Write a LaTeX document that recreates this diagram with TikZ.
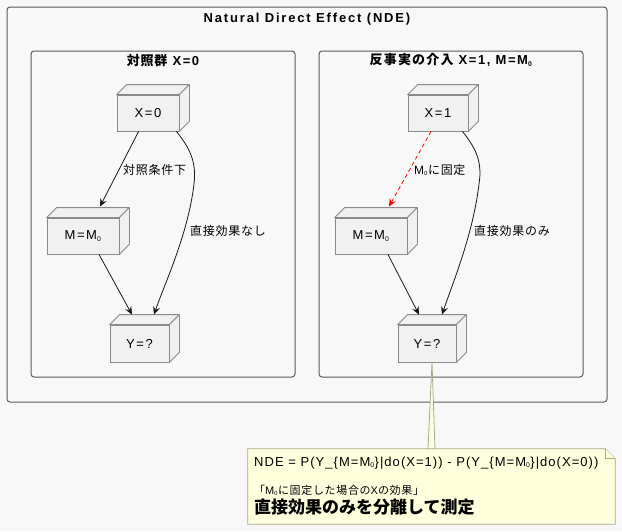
\documentclass[tikz,border=0pt]{standalone}
\usepackage{fontspec}
\setmainfont{Liberation Sans}[LetterSpace=12]
\newfontfamily\jp{Noto Sans CJK JP}[LetterSpace=6]
\usetikzlibrary{arrows.meta}
\definecolor{bggray}{HTML}{F8F8F8}
\definecolor{framegray}{HTML}{5A5A5A}
\definecolor{boxfill}{HTML}{F1F1F1}
\definecolor{boxline}{HTML}{8A8A8A}
\definecolor{arrowblack}{HTML}{181818}
\definecolor{notefill}{HTML}{FEFFDD}
\definecolor{noteline}{HTML}{A9A98A}
\newcommand{\mnull}{M\textsubscript{\scalebox{0.75}{0}}}
\tikzset{
        % Frames (outer effect and the two worlds)
        frame_box/.style={rectangle, draw=framegray, line width=1pt, rounded corners=3pt, inner sep=0pt},
        frame_title/.style={anchor=base, inner sep=0pt, font=\fontsize{13}{15}\selectfont\bfseries},
        % Variable boxes
        var_box/.style={rectangle, draw=boxline, fill=boxfill, line width=0.8pt, inner sep=0pt,
                minimum width=60pt, minimum height=36pt, font=\fontsize{13}{15}\selectfont},
        var_face/.style={draw=boxline, fill=boxfill, line width=0.8pt, line join=round},
        % Connectors
        flow_edge/.style={-{Stealth[length=8pt,width=7pt,inset=3pt]}, draw=arrowblack, line width=0.8pt},
        fixed_edge/.style={flow_edge, draw=red, dash pattern=on 4pt off 3pt},
        edge_label/.style={anchor=west, inner sep=0pt, font=\fontsize{12}{14}\selectfont},
        % Note
        note_box/.style={rectangle, inner sep=0pt, minimum width=367pt, minimum height=75pt},
        note_line/.style={draw=noteline, fill=notefill, line width=0.8pt},
        note_text/.style={anchor=base west, inner sep=0pt}
}
\begin{document}
\begin{tikzpicture}[x=1pt, y=-1pt]
    \useasboundingbox[fill=bggray] (0,0) rectangle (622,531);

    % frames
    \node[frame_box, minimum width=600pt, minimum height=395pt] (nde_frame) at (307,204.5) {};
    \node[frame_box, minimum width=264pt, minimum height=326pt] (ctrl_frame) at (163,214) {};
    \node[frame_box, minimum width=264pt, minimum height=326pt] (cf_frame) at (451,214) {};
    \node[frame_title] (nde_title) at ([yshift=-15.5pt]nde_frame.north) {\addfontfeatures{LetterSpace=14}Natural Direct Effect (NDE)};
    \node[frame_title] (ctrl_title) at ([yshift=-14.5pt]ctrl_frame.north) {{\jp 対照群} X=0};
    \node[frame_title] (cf_title) at ([yshift=-14pt]cf_frame.north) {{\jp\addfontfeatures{LetterSpace=9}反事実の介入} X=1, M=\mnull};

    % variables
    \node[var_box, minimum width=62pt] (x_zero) at (148,113) {X=0};
    \node[var_box, minimum width=72pt] (m_ctrl) at (83,236) {M=\mnull};
    \node[var_box, minimum width=59pt, minimum height=37pt] (y_ctrl) at (139.5,343.5) {Y=?};
    \node[var_box] (x_one) at (438,113) {X=1};
    \node[var_box, minimum width=72pt] (m_fix) at (371,236) {M=\mnull};
    \node[var_box, minimum width=58pt, minimum height=37pt] (y_fix) at (427,343.5) {Y=?};
    \foreach \n in {x_zero, m_ctrl, y_ctrl, x_one, m_fix, y_fix} {
        \draw[var_face] (\n.north west) -- ++(10,-10) -- ([shift={(10,-10)}]\n.north east) -- (\n.north east) -- cycle;
        \draw[var_face] (\n.north east) -- ([shift={(10,-10)}]\n.north east) -- ([shift={(10,-10)}]\n.south east) -- (\n.south east) -- cycle;
    }

    % control world
    \draw[flow_edge] (x_zero.243) -- ([xshift=17pt,yshift=11pt]m_ctrl.north);
    \draw[flow_edge] ([xshift=-3pt]x_zero.south east) .. controls (188,146) and (197,160) .. (194,184)
        .. controls (188,235) and (164,285) .. ([xshift=14.5pt,yshift=10pt]y_ctrl.north);
    \draw[flow_edge] ([xshift=16pt]m_ctrl.south) -- ([xshift=-7.5pt,yshift=10pt]y_ctrl.north);
    \node[edge_label] (lbl_ctrl) at (123,170) {\jp 対照条件下};
    \node[edge_label] (lbl_none) at (190,231) {\jp 直接効果なし};

    % counterfactual world
    \draw[fixed_edge] ([xshift=-7pt]x_one.south) -- ([xshift=18pt,yshift=11pt]m_fix.north);
    \draw[flow_edge] ([xshift=-6pt]x_one.south east) .. controls (474,146) and (483,160) .. (479,184)
        .. controls (473,235) and (452,285) .. ([xshift=15pt,yshift=10pt]y_fix.north);
    \draw[flow_edge] ([xshift=17pt]m_fix.south) -- ([xshift=-8pt,yshift=10pt]y_fix.north);
    \node[edge_label] (lbl_fix) at (414,170) {\mnull{\jp に固定}};
    \node[edge_label] (lbl_only) at (474,231) {\jp 直接効果のみ};

    % note
    \node[note_box] (note) at (431.5,486.5) {};
    \draw[note_line] (note.north west) -- ([xshift=-10pt]note.north east) -- ([yshift=-10pt]note.north east)
        -- (note.south east) -- (note.south west) -- cycle;
    \draw[note_line] ([xshift=-10pt]note.north east) -- ([xshift=-10pt,yshift=-10pt]note.north east) -- ([yshift=-10pt]note.north east);
    \draw[note_line] ([xshift=5pt]y_fix.south) -- ([xshift=3.5pt]note.north) -- ([xshift=-3.5pt]note.north) -- cycle;
    \node[note_text, font=\fontsize{13}{15}\selectfont\addfontfeatures{LetterSpace=8}] (note_eq) at (254,466)
        {NDE = P(Y\_\{M=\mnull\}|do(X=1)) - P(Y\_\{M=\mnull\}|do(X=0))};
    \node[note_text, font=\fontsize{11}{13}\selectfont] (note_sub) at (254,494)
        {{\jp 「}\mnull{\jp に固定した場合の}X{\jp の効果」}};
    \node[note_text, font=\fontsize{17}{20}\selectfont] (note_main) at (254,513)
        {\jp\bfseries\addfontfeatures{LetterSpace=0}直接効果のみを分離して測定};
\end{tikzpicture}
\end{document}
